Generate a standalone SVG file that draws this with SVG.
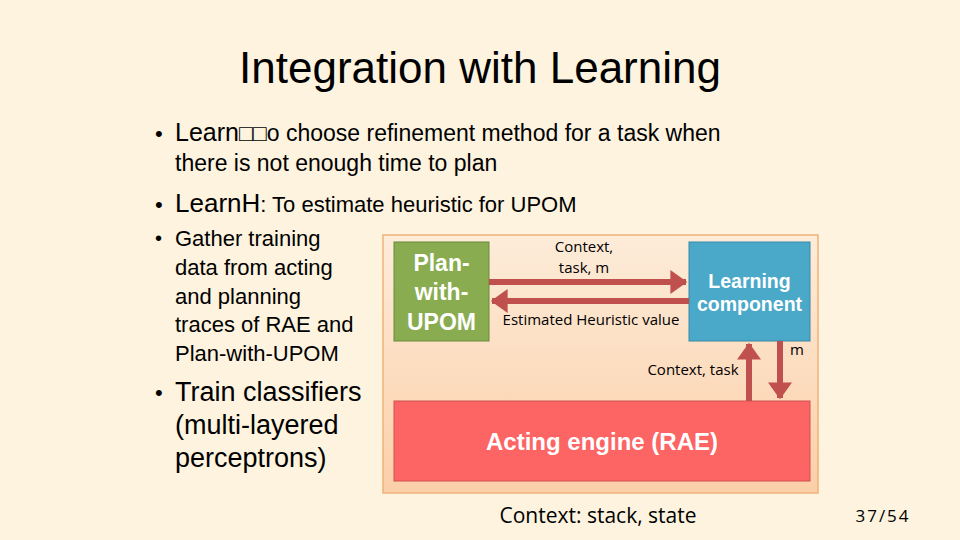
<svg xmlns="http://www.w3.org/2000/svg" width="960" height="540" viewBox="0 0 960 540">
<defs>
<linearGradient id="pg" x1="0" y1="0" x2="0" y2="1"><stop offset="0" stop-color="#fdecd9"/><stop offset="1" stop-color="#fbcfa8"/></linearGradient>
<marker id="ah" markerWidth="4" markerHeight="4" refX="2.6" refY="2" orient="auto" markerUnits="strokeWidth"><path d="M0,0 L2.8,2 L0,4 Z" fill="#c0504d"/></marker>
</defs>
<style>
.t{font-family:"Liberation Sans",Arial,sans-serif;fill:#000}
.c{font-family:"Open Sans","DejaVu Sans",sans-serif;fill:#000}
.w{font-family:"Liberation Sans",Arial,sans-serif;fill:#fff;font-weight:bold}
.ar{stroke:#c0504d;stroke-width:6;fill:none;marker-end:url(#ah)}
</style>
<rect width="960" height="540" fill="#fdf3de"/>
<text class="t" x="480" y="83" font-size="44" text-anchor="middle">Integration with Learning</text>
<text class="t" x="155" y="141" font-size="22">•</text>
<text class="t" x="175" y="141"><tspan font-size="25">Learn</tspan><tspan font-size="23">□□o choose refinement method for a task when</tspan></text>
<text class="t" x="175" y="171" font-size="23">there is not enough time to plan</text>
<text class="t" x="155" y="212" font-size="22">•</text>
<text class="t" x="175" y="212"><tspan font-size="26">LearnH</tspan><tspan font-size="22">: To estimate heuristic for UPOM</tspan></text>
<text class="t" x="155" y="245" font-size="20">•</text>
<text class="t" font-size="22"><tspan x="175" y="246">Gather training</tspan><tspan x="175" y="275">data from acting</tspan><tspan x="175" y="304">and planning</tspan><tspan x="175" y="332">traces of RAE and</tspan><tspan x="175" y="361">Plan-with-UPOM</tspan></text>
<text class="t" x="155" y="400" font-size="22">•</text>
<text class="t" font-size="27"><tspan x="175" y="401">Train classifiers</tspan><tspan x="175" y="434">(multi-layered</tspan><tspan x="175" y="467">perceptrons)</tspan></text>
<rect x="383" y="235" width="435" height="258" fill="url(#pg)" stroke="#f0b27a" stroke-width="1.5"/>
<g id="plan"><rect x="394" y="242" width="95" height="99" fill="#8aac50" stroke="#6b8a3b"/>
<text class="w" font-size="23" text-anchor="middle"><tspan x="441.5" y="271">Plan-</tspan><tspan x="441.5" y="300">with-</tspan><tspan x="441.5" y="330">UPOM</tspan></text></g>
<g id="learn"><rect x="689" y="242" width="121" height="99" fill="#4aa8c8" stroke="#3a88a8"/>
<text class="w" font-size="19.5" text-anchor="middle"><tspan x="749.5" y="288">Learning</tspan><tspan x="749.5" y="311">component</tspan></text></g>
<g id="rae"><rect x="394" y="401" width="416" height="80" fill="#fd6464" stroke="#d05050"/>
<text class="w" x="602" y="450" font-size="24" text-anchor="middle">Acting engine (RAE)</text></g>
<g id="connectors">
<line class="ar" x1="489" y1="282" x2="686" y2="282"/>
<line class="ar" x1="689" y1="301" x2="492" y2="301"/>
<line class="ar" x1="749" y1="401" x2="749" y2="344"/>
<line class="ar" x1="780" y1="341" x2="780" y2="398"/>
</g>
<text class="c" font-size="15" text-anchor="middle"><tspan x="584" y="252">Context,</tspan><tspan x="584" y="273">task, m</tspan></text>
<text class="c" x="591" y="325" font-size="15" text-anchor="middle">Estimated Heuristic value</text>
<text class="c" x="693" y="375" font-size="15" text-anchor="middle">Context, task</text>
<text class="c" x="797" y="355" font-size="15" text-anchor="middle">m</text>
<text class="c" x="598" y="523" font-size="21" text-anchor="middle">Context: stack, state</text>
<text class="c" x="883" y="522" font-size="17" text-anchor="middle" letter-spacing="2">37/54</text>
</svg>
